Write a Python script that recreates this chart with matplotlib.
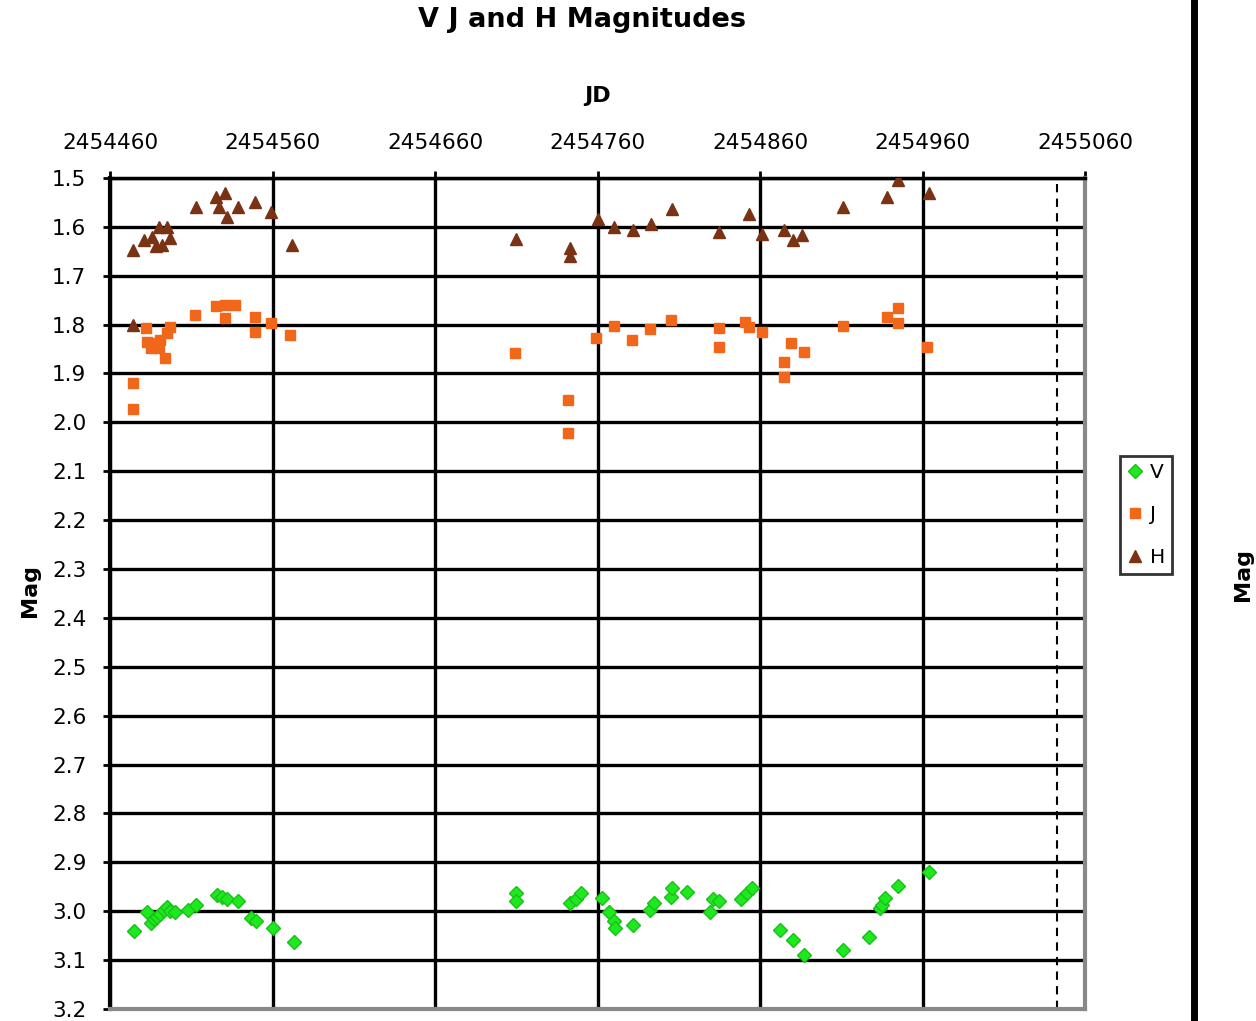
import numpy as np
from matplotlib import pyplot as plt
from matplotlib.lines import Line2D

# V band
v_jd = [2454475, 2454483, 2454485, 2454487, 2454489, 2454491, 2454493, 2454495,
        2454497, 2454500, 2454508, 2454513, 2454526, 2454529, 2454532, 2454539,
        2454547, 2454550, 2454560, 2454573,
        2454710, 2454710, 2454743, 2454747, 2454750, 2454763, 2454767, 2454770,
        2454771, 2454782, 2454792, 2454795, 2454805, 2454806, 2454815, 2454829,
        2454831, 2454835, 2454848, 2454852, 2454855,
        2454872, 2454880, 2454887, 2454911, 2454927, 2454934, 2454935, 2454937,
        2454945, 2454964]
v_mag = [3.040, 3.001, 3.024, 3.015, 3.011, 3.005, 2.997, 2.991,
         3.000, 3.001, 2.997, 2.987, 2.966, 2.970, 2.976, 2.980,
         3.013, 3.021, 3.034, 3.064,
         2.963, 2.980, 2.983, 2.976, 2.962, 2.972, 3.001, 3.021,
         3.034, 3.028, 2.997, 2.983, 2.970, 2.952, 2.960, 3.001,
         2.976, 2.980, 2.976, 2.962, 2.952,
         3.038, 3.058, 3.089, 3.079, 3.052, 2.993, 2.987, 2.972,
         2.948, 2.919]

# J band
j_jd = [2454474, 2454474, 2454482, 2454483, 2454485, 2454486, 2454490, 2454491,
        2454494, 2454495, 2454497, 2454512, 2454525, 2454531, 2454531, 2454537,
        2454549, 2454549, 2454559, 2454571,
        2454709, 2454742, 2454742, 2454759, 2454770, 2454781, 2454792, 2454805,
        2454835, 2454835, 2454851, 2454853, 2454861,
        2454875, 2454875, 2454879, 2454887, 2454911, 2454938, 2454945, 2454945,
        2454963]
j_mag = [1.919, 1.972, 1.807, 1.835, 1.848, 1.837, 1.848, 1.831,
         1.868, 1.817, 1.804, 1.780, 1.762, 1.760, 1.786, 1.760,
         1.784, 1.815, 1.797, 1.821,
         1.858, 1.954, 2.021, 1.827, 1.803, 1.831, 1.809, 1.790,
         1.807, 1.845, 1.795, 1.805, 1.815,
         1.876, 1.907, 1.837, 1.856, 1.803, 1.784, 1.766, 1.797,
         1.846]

# H band
h_jd = [2454474, 2454474, 2454481, 2454486, 2454488, 2454490, 2454492, 2454495,
        2454497, 2454513, 2454525, 2454531, 2454527, 2454532, 2454539, 2454549,
        2454559, 2454572,
        2454710, 2454743, 2454743, 2454760, 2454770, 2454782, 2454793, 2454806,
        2454835, 2454853, 2454861,
        2454875, 2454880, 2454886, 2454911, 2454938, 2454945, 2454964]
h_mag = [1.647, 1.800, 1.627, 1.620, 1.640, 1.600, 1.637, 1.600,
         1.623, 1.559, 1.539, 1.531, 1.559, 1.580, 1.559, 1.549,
         1.569, 1.637,
         1.625, 1.643, 1.660, 1.584, 1.600, 1.606, 1.594, 1.563,
         1.610, 1.574, 1.615,
         1.606, 1.627, 1.617, 1.559, 1.539, 1.504, 1.531]

jd_ticks = np.arange(2454460, 2455061, 100)
mag_ticks = np.round(np.arange(1.5, 3.21, 0.1), 1)
jd_mark = 2455043

fig = plt.figure(figsize=(12.56, 10.21), dpi=100)
ax = fig.add_axes([0.0876, 0.0118, 0.7763, 0.8139])

ax.plot(h_jd, h_mag, ls='none', marker='^', ms=9, color='#7a3214', mec='#7a3214', zorder=3)
ax.plot(j_jd, j_mag, ls='none', marker='s', ms=7, color='#f2661a', mec='#f2661a', zorder=3)
ax.plot(v_jd, v_mag, ls='none', marker='D', ms=7.5, color='#1ee81e', mec='#18c018', zorder=3)

ax.axvline(jd_mark, color='black', ls=(0, (4, 3)), lw=1.5, zorder=2)

ax.set_xlim(2454460, 2455060)
ax.set_ylim(3.2, 1.5)
ax.set_xticks(jd_ticks)
ax.set_xticklabels([str(t) for t in jd_ticks])
ax.set_yticks(mag_ticks)
ax.set_yticklabels(['%.1f' % t for t in mag_ticks])
ax.xaxis.tick_top()
ax.tick_params(axis='both', labelsize=15.5, length=5, width=2, color='black')
ax.tick_params(axis='x', pad=13)
ax.tick_params(axis='y', pad=12)
ax.grid(True, color='black', lw=2.4, zorder=1)

ax.spines['left'].set_linewidth(3)
ax.spines['top'].set_linewidth(2.5)
ax.spines['bottom'].set_color('#888888')
ax.spines['bottom'].set_linewidth(3)
ax.spines['right'].set_color('#888888')
ax.spines['right'].set_linewidth(3)

fig.text(0.4634, 0.980, 'V J and H Magnitudes', ha='center', va='center',
         fontsize=19.5, fontweight='bold')
fig.text(0.476, 0.906, 'JD', ha='center', va='center', fontsize=16, fontweight='bold')
fig.text(0.024, 0.422, 'Mag', ha='center', va='center', rotation=90,
         fontsize=16, fontweight='bold')

handles = [Line2D([], [], ls='none', marker='D', ms=7.5, color='#1ee81e', mec='#18c018'),
           Line2D([], [], ls='none', marker='s', ms=7, color='#f2661a'),
           Line2D([], [], ls='none', marker='^', ms=9, color='#7a3214')]
leg = fig.legend(handles, ['V', 'J', 'H'], loc='center', bbox_to_anchor=(0.9125, 0.4956),
                 fontsize=14.5, frameon=True, fancybox=False, edgecolor='black',
                 handlelength=0.8, handletextpad=0.35, borderpad=0.35, labelspacing=1.15,
                 borderaxespad=0)
leg.get_frame().set_linewidth(2)

# edge of the neighbouring panel
fig.add_artist(Line2D([0.9505, 0.9505], [0, 1], color='black', lw=5, transform=fig.transFigure))
fig.text(0.982, 0.437, 'Mag', ha='left', va='center', rotation=90,
         fontsize=16, fontweight='bold')

plt.savefig('out.png', dpi=100)
